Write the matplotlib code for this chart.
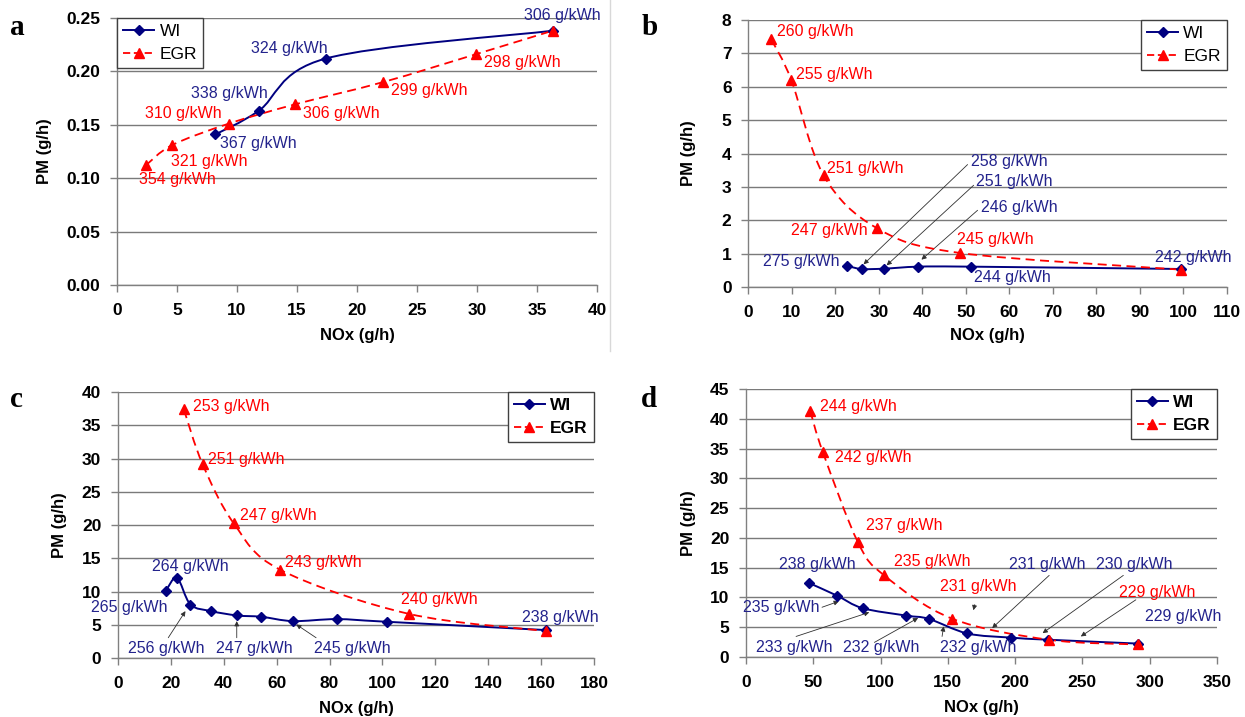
import matplotlib
matplotlib.use('Agg')
import matplotlib.pyplot as plt
import numpy as np
from matplotlib.path import Path
from matplotlib.patches import PathPatch
from matplotlib.lines import Line2D
from matplotlib.ticker import FormatStrFormatter

plt.rcParams['font.family'] = ['Liberation Sans', 'DejaVu Sans']

NAVY = '#000080'
NAVY_TXT = '#23238c'
RED = '#ff0000'
GRID = '#7a7a7a'

# ---- data ----
# panel a
a_wi_x = [8.2, 11.8, 17.4, 36.3]
a_wi_y = [0.141, 0.163, 0.212, 0.238]
a_egr_x = [2.4, 4.6, 9.3, 14.8, 22.2, 29.9, 36.3]
a_egr_y = [0.112, 0.131, 0.151, 0.169, 0.190, 0.216, 0.238]
a_wi_lab = ['367 g/kWh', '338 g/kWh', '324 g/kWh', '306 g/kWh']
a_egr_lab = ['354 g/kWh', '321 g/kWh', '310 g/kWh', '306 g/kWh', '299 g/kWh', '298 g/kWh']

# panel b
b_wi_x = [22.8, 26.1, 31.2, 39.1, 51.3, 99.5]
b_wi_y = [0.63, 0.54, 0.55, 0.61, 0.61, 0.54]
b_egr_x = [5.3, 9.9, 17.3, 29.5, 48.7, 99.5]
b_egr_y = [7.42, 6.20, 3.35, 1.77, 1.02, 0.52]
b_wi_lab = ['275 g/kWh', '258 g/kWh', '251 g/kWh', '246 g/kWh', '244 g/kWh', '242 g/kWh']
b_egr_lab = ['260 g/kWh', '255 g/kWh', '251 g/kWh', '247 g/kWh', '245 g/kWh']

# panel c
c_wi_x = [18.0, 22.3, 27.4, 35.3, 45.1, 54.2, 66.2, 82.8, 101.7, 162.0]
c_wi_y = [10.05, 12.05, 8.05, 7.05, 6.4, 6.2, 5.55, 5.85, 5.45, 4.2]
c_egr_x = [24.9, 32.0, 43.7, 61.2, 109.9, 162.0]
c_egr_y = [37.4, 29.15, 20.3, 13.3, 6.65, 4.05]
c_wi_lab = ['264 g/kWh', '265 g/kWh', '256 g/kWh', '247 g/kWh', '245 g/kWh', '238 g/kWh']
c_egr_lab = ['253 g/kWh', '251 g/kWh', '247 g/kWh', '243 g/kWh', '240 g/kWh']

# panel d
d_wi_x = [47.1, 67.6, 86.6, 119.1, 135.8, 164.5, 197.0, 224.5, 291.5]
d_wi_y = [12.4, 10.3, 8.2, 6.95, 6.4, 3.95, 3.25, 2.9, 2.25]
d_egr_x = [47.7, 57.1, 83.1, 102.7, 153.0, 224.8, 291.5]
d_egr_y = [41.35, 34.4, 19.3, 13.7, 6.45, 2.9, 2.1]
d_wi_lab = ['238 g/kWh', '235 g/kWh', '233 g/kWh', '232 g/kWh', '232 g/kWh',
            '231 g/kWh', '230 g/kWh', '229 g/kWh']
d_egr_lab = ['244 g/kWh', '242 g/kWh', '237 g/kWh', '235 g/kWh', '231 g/kWh', '229 g/kWh']


def smooth_path(x, y):
    # Excel-like smoothed line: cubic bezier segments through the points
    pts = np.column_stack([x, y]).astype(float)
    n = len(pts)
    verts = [pts[0]]
    codes = [Path.MOVETO]
    for i in range(n - 1):
        p0 = pts[i - 1] if i > 0 else pts[i]
        p1 = pts[i]
        p2 = pts[i + 1]
        p3 = pts[i + 2] if i + 2 < n else pts[i + 1]
        verts += [p1 + (p2 - p0) / 6, p2 - (p3 - p1) / 6, p2]
        codes += [Path.CURVE4] * 3
    return Path(verts, codes)


def draw_series(ax, wx, wy, ex, ey):
    ax.add_patch(PathPatch(smooth_path(wx, wy), fill=False, ec=NAVY, lw=1.4, zorder=3))
    ax.add_patch(PathPatch(smooth_path(ex, ey), fill=False, ec=RED, lw=1.3,
                           ls=(0, (5, 3)), zorder=4))
    ax.plot(wx, wy, ls='none', marker='D', ms=5.5, color=NAVY, zorder=5)
    ax.plot(ex, ey, ls='none', marker='^', ms=7, color=RED, zorder=6)


def style_axes(ax, xmax, xstep, ymax, ystep, fmt, xl, yl):
    ax.set_xlim(0, xmax)
    ax.set_ylim(0, ymax)
    ax.set_xticks(np.arange(0, xmax + xstep / 2, xstep))
    ax.set_yticks(np.arange(0, ymax + ystep / 2, ystep))
    ax.yaxis.set_major_formatter(FormatStrFormatter(fmt))
    ax.grid(axis='y', color=GRID, lw=1.0)
    ax.set_axisbelow(True)
    for s in ['top', 'right']:
        ax.spines[s].set_visible(False)
    for s in ['left', 'bottom']:
        ax.spines[s].set_color('#808080')
        ax.spines[s].set_linewidth(1.0)
    ax.tick_params(direction='out', length=5, color='#808080', labelsize=12.5, width=1)
    ax.tick_params(axis='x', pad=8)
    ax.tick_params(axis='y', pad=7)
    for t in ax.get_xticklabels() + ax.get_yticklabels():
        t.set_fontweight('bold')
    ax.set_xlabel('NOx (g/h)', fontsize=12, fontweight='bold')
    ax.set_ylabel('PM (g/h)', fontsize=12, fontweight='bold')
    ax.xaxis.set_label_coords(0.5, xl)
    ax.yaxis.set_label_coords(yl, 0.5)


def add_legend(ax, loc, anchor, bold):
    h = [Line2D([], [], color=NAVY, lw=1.4, marker='D', ms=5.5),
         Line2D([], [], color=RED, lw=1.3, ls=(0, (4, 2)), marker='^', ms=7)]
    leg = ax.legend(h, ['WI', 'EGR'], loc=loc, bbox_to_anchor=anchor, borderaxespad=0,
                    fancybox=False, framealpha=1, edgecolor='#404040', handlelength=1.8,
                    handletextpad=0.3, borderpad=0.35, labelspacing=0.45,
                    prop={'size': 12.5, 'weight': 'bold' if bold else 'normal'})
    leg.get_frame().set_linewidth(1.0)
    leg.set_zorder(10)


def labels(ax, texts, pos, color):
    for t, (x, y) in zip(texts, pos):
        ax.text(x, y, t, color=color, fontsize=11.5, ha='left', va='center',
                clip_on=False, zorder=8)


def arrows(ax, pairs):
    for tail, tip in pairs:
        ax.annotate('', xy=tip, xytext=tail,
                    arrowprops=dict(arrowstyle='-|>', color='#303030', lw=0.6,
                                    mutation_scale=7, shrinkA=0, shrinkB=0))


fig = plt.figure(figsize=(12.45, 7.17), dpi=100)

# ---- a ----
ax = fig.add_axes([0.094, 0.6025, 0.3855, 0.3725])
draw_series(ax, a_wi_x, a_wi_y, a_egr_x, a_egr_y)
style_axes(ax, 40, 5, 0.25, 0.05, '%.2f', -0.16, -0.135)
labels(ax, a_wi_lab, [(8.6, 0.132), (6.2, 0.179), (11.2, 0.221), (33.9, 0.252)], NAVY_TXT)
labels(ax, a_egr_lab, [(1.8, 0.099), (4.5, 0.116), (2.3, 0.161), (15.5, 0.161),
                       (22.8, 0.182), (30.6, 0.208)], RED)
add_legend(ax, 'upper left', (0, 1), False)

# ---- b ----
ax = fig.add_axes([0.601, 0.5997, 0.3845, 0.3723])
draw_series(ax, b_wi_x, b_wi_y, b_egr_x, b_egr_y)
style_axes(ax, 110, 10, 8, 1, '%d', -0.154, -0.11)
labels(ax, b_wi_lab, [(3.4, 0.77), (51.2, 3.77), (52.4, 3.15), (53.5, 2.37),
                      (51.8, 0.30), (93.5, 0.87)], NAVY_TXT)
labels(ax, b_egr_lab, [(6.6, 7.65), (11.0, 6.38), (18.2, 3.55), (9.9, 1.70), (47.9, 1.43)], RED)
arrows(ax, [((50.4, 3.67), (26.5, 0.68)), ((51.8, 3.05), (31.8, 0.65)),
            ((52.7, 2.30), (39.8, 0.82))])
add_legend(ax, 'upper right', (1.0, 1), False)

# ---- c ----
ax = fig.add_axes([0.0948, 0.0823, 0.3823, 0.3707])
draw_series(ax, c_wi_x, c_wi_y, c_egr_x, c_egr_y)
style_axes(ax, 180, 20, 40, 5, '%d', -0.162, -0.107)
labels(ax, c_wi_lab, [(12.9, 13.8), (-10.2, 7.6), (3.9, 1.4), (37.1, 1.4),
                      (74.3, 1.4), (152.7, 6.05)], NAVY_TXT)
labels(ax, c_egr_lab, [(28.5, 37.8), (34.1, 29.9), (46.0, 21.4), (63.2, 14.4),
                       (107.2, 8.8)], RED)
arrows(ax, [((19.0, 3.05), (25.5, 7.05)), ((44.9, 3.05), (44.9, 5.55)),
            ((74.9, 3.05), (67.4, 5.05))])
add_legend(ax, 'upper right', (1.0, 1), True)

# ---- d ----
ax = fig.add_axes([0.5992, 0.0837, 0.3783, 0.3738])
draw_series(ax, d_wi_x, d_wi_y, d_egr_x, d_egr_y)
style_axes(ax, 350, 50, 45, 5, '%d', -0.160, -0.106)
labels(ax, d_wi_lab, [(24.6, 15.6), (-2.0, 8.35), (7.6, 1.6), (72.0, 1.6), (144.0, 1.6),
                      (195.2, 15.6), (260.0, 15.6), (296.5, 6.8)], NAVY_TXT)
labels(ax, d_egr_lab, [(55.0, 42.1), (66.1, 33.45), (89.0, 22.15), (110.0, 16.1),
                       (144.0, 11.9), (277.4, 10.9)], RED)
arrows(ax, [((56.5, 8.35), (69.0, 9.35)), ((37.2, 3.45), (91.6, 7.5)),
            ((95.4, 2.45), (127.9, 6.55)), ((145.7, 3.45), (146.9, 5.15)),
            ((170.0, 8.8), (169.0, 7.85)), ((225.3, 13.7), (182.9, 4.85)),
            ((280.4, 13.7), (220.4, 4.0)), ((289.7, 9.6), (248.8, 3.45))])
add_legend(ax, 'upper right', (1.0, 1), True)

# panel letters
for lx, ly, s in [(0.008, 0.962, 'a'), (0.515, 0.962, 'b'), (0.008, 0.443, 'c'), (0.515, 0.443, 'd')]:
    fig.text(lx, ly, s, family='Liberation Serif', fontweight='bold', fontsize=21,
             va='center', ha='left')

# faint chart border line of panel a
fig.add_artist(Line2D([0.49, 0.49], [0.51, 1.0], color='#d8d8d8', lw=1))

fig.savefig('out.png', dpi=100, facecolor='white')
